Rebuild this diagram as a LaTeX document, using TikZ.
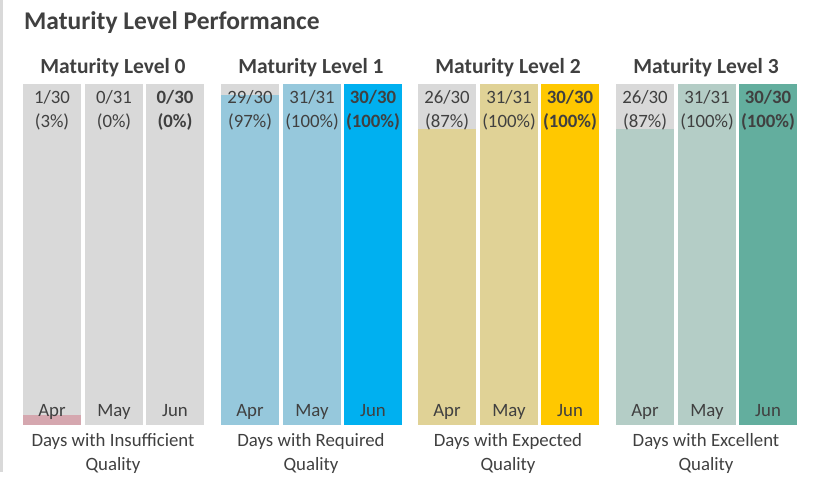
\documentclass[tikz,border=0pt]{standalone}
\usepackage{fontspec}
\setmainfont{Carlito}
\usepackage{tikz}
\usetikzlibrary{positioning}
\definecolor{txtgray}{HTML}{404040}
\definecolor{bargray}{HTML}{D9D9D9}
\definecolor{lowpink}{HTML}{D5A7AF}
\definecolor{reqblue}{HTML}{96C8DC}
\definecolor{reqblueD}{HTML}{00B0F0}
\definecolor{exptan}{HTML}{E0D296}
\definecolor{exptanD}{HTML}{FFC800}
\definecolor{excsage}{HTML}{B4CDC6}
\definecolor{excsageD}{HTML}{63AE9E}

\begin{document}
\begin{tikzpicture}[x=1pt,y=1pt]
                    \tikzstyle{every node}+=[inner sep=0pt, text=txtgray]
                    \tikzstyle{val}=[font=\fontsize{18.8}{24}\selectfont, align=center, anchor=base]
                    \tikzstyle{mon}=[font=\fontsize{18.8}{24}\selectfont, anchor=base]
                    \tikzstyle{head}=[font=\fontsize{21.5}{24}\selectfont\bfseries, anchor=base]
                    \tikzstyle{cat}=[font=\fontsize{18.8}{24}\selectfont, align=center, anchor=base]
                    \useasboundingbox (0,0) rectangle (821,-478);
                    \fill [bargray] (0,0) rectangle (3,-472);
                    \node [font=\fontsize{25.5}{30}\selectfont\bfseries, anchor=base west] (title) at (24,-30) {Maturity Level Performance};
                    % level 0
                    \node [head] (h0) at (113,-74) {Maturity Level 0};
                    \fill [bargray] (23,-84) rectangle (81,-425);
                    \fill [lowpink] (23,-415) rectangle (81,-425);
                    \fill [bargray] (85,-84) rectangle (143,-425);
                    \fill [bargray] (146,-84) rectangle (204,-425);
                    \node [val] (v0apr) at (52,-128) {1/30\\(3\%)};
                    \node [val] (v0may) at (114,-128) {0/31\\(0\%)};
                    \node [val] (v0jun) at (175,-128) {\textbf{0/30}\\\textbf{(0\%)}};
                    \node [mon] (m0apr) at (52,-416) {Apr};
                    \node [mon] (m0may) at (114,-416) {May};
                    \node [mon] (m0jun) at (175,-416) {Jun};
                    \node [cat] (c0) at (113,-470) {Days with Insufficient\\Quality};
                    % level 1
                    \node [head] (h1) at (311,-74) {Maturity Level 1};
                    \fill [bargray] (221,-84) rectangle (279,-425);
                    \fill [reqblue] (221,-95) rectangle (279,-425);
                    \fill [reqblue] (283,-84) rectangle (341,-425);
                    \fill [reqblueD] (344,-84) rectangle (402,-425);
                    \node [val] (v1apr) at (250,-128) {29/30\\(97\%)};
                    \node [val] (v1may) at (312,-128) {31/31\\(100\%)};
                    \node [val] (v1jun) at (373,-128) {\textbf{30/30}\\\textbf{(100\%)}};
                    \node [mon] (m1apr) at (250,-416) {Apr};
                    \node [mon] (m1may) at (312,-416) {May};
                    \node [mon] (m1jun) at (373,-416) {Jun};
                    \node [cat] (c1) at (311,-470) {Days with Required\\Quality};
                    % level 2
                    \node [head] (h2) at (508,-74) {Maturity Level 2};
                    \fill [bargray] (418,-84) rectangle (476,-425);
                    \fill [exptan] (418,-129) rectangle (476,-425);
                    \fill [exptan] (480,-84) rectangle (538,-425);
                    \fill [exptanD] (541,-84) rectangle (599,-425);
                    \node [val] (v2apr) at (447,-128) {26/30\\(87\%)};
                    \node [val] (v2may) at (509,-128) {31/31\\(100\%)};
                    \node [val] (v2jun) at (570,-128) {\textbf{30/30}\\\textbf{(100\%)}};
                    \node [mon] (m2apr) at (447,-416) {Apr};
                    \node [mon] (m2may) at (509,-416) {May};
                    \node [mon] (m2jun) at (570,-416) {Jun};
                    \node [cat] (c2) at (508,-470) {Days with Expected\\Quality};
                    % level 3
                    \node [head] (h3) at (706,-74) {Maturity Level 3};
                    \fill [bargray] (616,-84) rectangle (674,-425);
                    \fill [excsage] (616,-129) rectangle (674,-425);
                    \fill [excsage] (678,-84) rectangle (736,-425);
                    \fill [excsageD] (739,-84) rectangle (797,-425);
                    \node [val] (v3apr) at (645,-128) {26/30\\(87\%)};
                    \node [val] (v3may) at (707,-128) {31/31\\(100\%)};
                    \node [val] (v3jun) at (768,-128) {\textbf{30/30}\\\textbf{(100\%)}};
                    \node [mon] (m3apr) at (645,-416) {Apr};
                    \node [mon] (m3may) at (707,-416) {May};
                    \node [mon] (m3jun) at (768,-416) {Jun};
                    \node [cat] (c3) at (706,-470) {Days with Excellent\\Quality};
\end{tikzpicture}
\end{document}
